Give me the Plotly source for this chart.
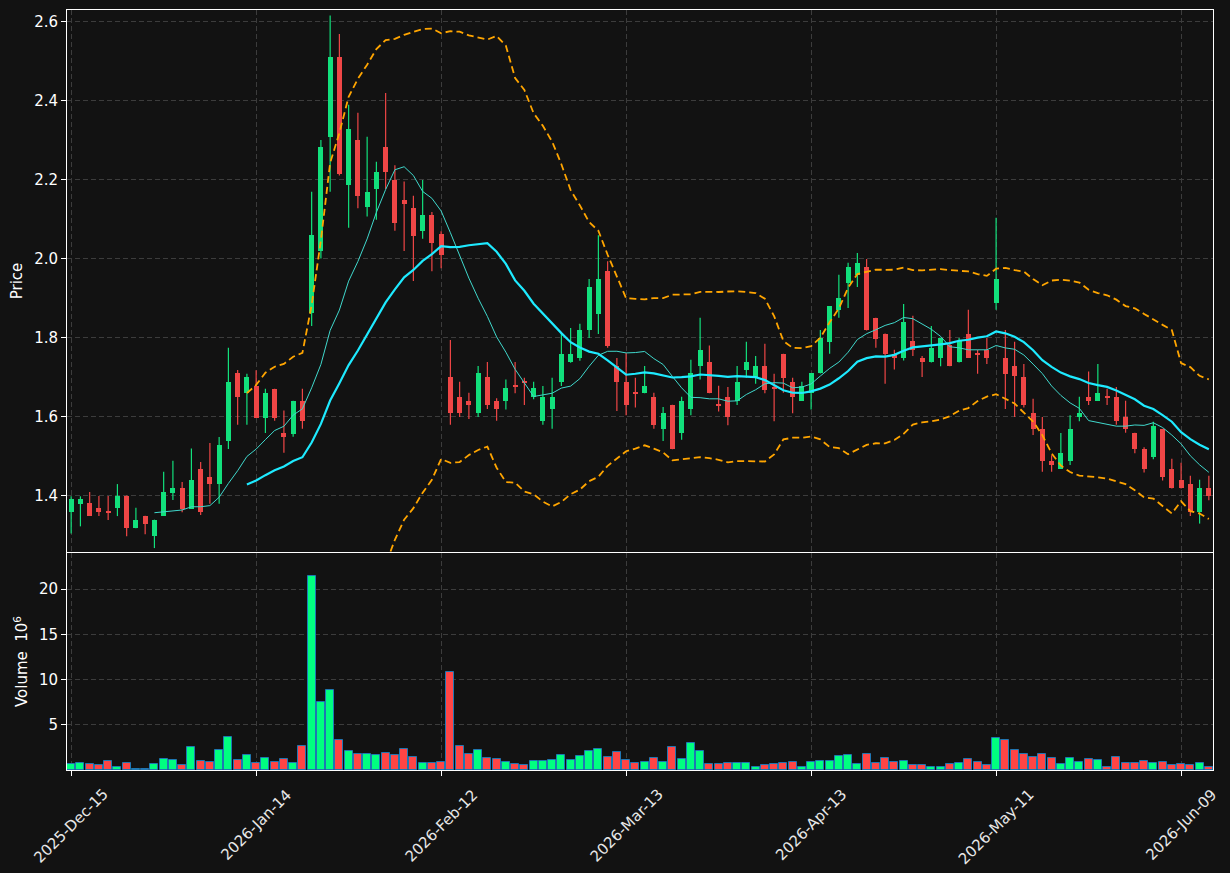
import pandas as pd
import numpy as np
import plotly.graph_objects as go

# ---------------- data ----------------
holidays = ["2025-12-25", "2026-01-01", "2026-01-19", "2026-02-16", "2026-04-03", "2026-05-25"]
dates = pd.bdate_range("2025-12-15", "2026-06-12", freq="C", holidays=holidays)

tick_labels = ["2025-Dec-15", "2026-Jan-14", "2026-Feb-12", "2026-Mar-13",
               "2026-Apr-13", "2026-May-11", "2026-Jun-09"]

open_ = [1.359, 1.379, 1.381, 1.370, 1.361, 1.369, 1.401, 1.318, 1.350, 1.298,
         1.349, 1.408, 1.421, 1.368, 1.469, 1.449, 1.430, 1.538, 1.710, 1.660,
         1.679, 1.598, 1.671, 1.560, 1.558, 1.641, 1.864, 2.020, 2.308, 2.512,
         2.186, 2.302, 2.132, 2.178, 2.282, 2.200, 2.149, 2.129, 2.070, 2.110,
         2.062, 1.700, 1.651, 1.641, 1.609, 1.700, 1.641, 1.640, 1.679, 1.690,
         1.650, 1.589, 1.619, 1.689, 1.739, 1.748, 1.819, 1.860, 1.970, 1.729,
         1.689, 1.662, 1.660, 1.651, 1.570, 1.631, 1.560, 1.619, 1.728, 1.740,
         1.632, 1.651, 1.640, 1.718, 1.698, 1.730, 1.673, 1.760, 1.689, 1.640,
         1.660, 1.710, 1.789, 1.870, 1.939, 1.958, 1.980, 1.851, 1.811, 1.759,
         1.749, 1.792, 1.750, 1.738, 1.749, 1.781, 1.738, 1.811, 1.761, 1.770,
         1.888, 1.750, 1.730, 1.700, 1.611, 1.570, 1.489, 1.468, 1.488, 1.599,
         1.651, 1.640, 1.651, 1.651, 1.601, 1.560, 1.519, 1.498, 1.570, 1.469,
         1.441, 1.431, 1.359, 1.421]
high = [1.399, 1.399, 1.410, 1.400, 1.400, 1.430, 1.401, 1.370, 1.350, 1.340,
        1.461, 1.489, 1.435, 1.520, 1.486, 1.534, 1.549, 1.775, 1.719, 1.709,
        1.718, 1.671, 1.671, 1.616, 1.641, 1.671, 2.170, 2.301, 2.616, 2.569,
        2.390, 2.370, 2.309, 2.246, 2.420, 2.237, 2.196, 2.160, 2.200, 2.119,
        2.070, 1.795, 1.689, 1.661, 1.729, 1.739, 1.647, 1.695, 1.739, 1.699,
        1.689, 1.678, 1.699, 1.810, 1.825, 1.836, 1.949, 2.060, 1.994, 1.749,
        1.762, 1.699, 1.729, 1.661, 1.625, 1.631, 1.651, 1.745, 1.851, 1.781,
        1.679, 1.676, 1.729, 1.790, 1.754, 1.785, 1.709, 1.760, 1.699, 1.689,
        1.710, 1.820, 1.881, 1.960, 1.990, 2.015, 2.000, 1.851, 1.811, 1.770,
        1.886, 1.856, 1.754, 1.830, 1.800, 1.820, 1.800, 1.871, 1.770, 1.800,
        2.104, 1.820, 1.790, 1.734, 1.646, 1.600, 1.503, 1.559, 1.604, 1.651,
        1.715, 1.734, 1.671, 1.676, 1.641, 1.560, 1.523, 1.588, 1.570, 1.494,
        1.484, 1.451, 1.441, 1.451]
low = [1.305, 1.323, 1.349, 1.349, 1.339, 1.349, 1.298, 1.318, 1.303, 1.268,
       1.349, 1.390, 1.359, 1.368, 1.352, 1.380, 1.380, 1.519, 1.580, 1.580,
       1.598, 1.559, 1.590, 1.509, 1.550, 1.570, 1.830, 2.001, 2.170, 2.211,
       2.079, 2.128, 2.107, 2.099, 2.176, 2.071, 2.020, 1.944, 2.051, 1.969,
       1.976, 1.580, 1.600, 1.595, 1.600, 1.620, 1.590, 1.619, 1.660, 1.630,
       1.645, 1.580, 1.570, 1.678, 1.737, 1.742, 1.800, 1.810, 1.775, 1.615,
       1.604, 1.624, 1.660, 1.570, 1.539, 1.518, 1.542, 1.604, 1.695, 1.660,
       1.614, 1.579, 1.630, 1.699, 1.684, 1.660, 1.589, 1.661, 1.609, 1.640,
       1.619, 1.710, 1.760, 1.851, 1.876, 1.929, 1.819, 1.775, 1.684, 1.720,
       1.743, 1.754, 1.701, 1.738, 1.728, 1.728, 1.738, 1.749, 1.709, 1.734,
       1.871, 1.620, 1.600, 1.624, 1.554, 1.461, 1.461, 1.468, 1.478, 1.589,
       1.630, 1.640, 1.630, 1.580, 1.560, 1.508, 1.459, 1.493, 1.439, 1.419,
       1.419, 1.349, 1.330, 1.389]
close = [1.391, 1.391, 1.349, 1.359, 1.359, 1.401, 1.318, 1.339, 1.328, 1.340,
         1.411, 1.421, 1.368, 1.441, 1.359, 1.430, 1.530, 1.689, 1.650, 1.700,
         1.598, 1.661, 1.598, 1.548, 1.641, 1.590, 2.061, 2.282, 2.512, 2.214,
         2.330, 2.158, 2.170, 2.220, 2.219, 2.090, 2.138, 2.059, 2.110, 2.040,
         2.009, 1.609, 1.609, 1.630, 1.710, 1.630, 1.619, 1.672, 1.677, 1.688,
         1.672, 1.651, 1.651, 1.760, 1.760, 1.820, 1.930, 1.950, 1.779, 1.689,
         1.630, 1.660, 1.679, 1.579, 1.611, 1.518, 1.641, 1.710, 1.770, 1.660,
         1.630, 1.599, 1.689, 1.740, 1.730, 1.669, 1.671, 1.698, 1.650, 1.679,
         1.710, 1.800, 1.881, 1.900, 1.980, 1.990, 1.819, 1.798, 1.759, 1.749,
         1.841, 1.769, 1.738, 1.775, 1.800, 1.728, 1.791, 1.749, 1.759, 1.749,
         1.950, 1.708, 1.703, 1.630, 1.570, 1.488, 1.478, 1.509, 1.570, 1.611,
         1.640, 1.661, 1.650, 1.589, 1.570, 1.518, 1.468, 1.576, 1.449, 1.419,
         1.419, 1.359, 1.421, 1.399]
volume_m = [0.62, 0.73, 0.62, 0.51, 0.95, 0.36, 0.73, 0.15, 0.15, 0.62,
            1.17, 1.06, 0.51, 2.59, 0.95, 0.84, 2.26, 3.69, 1.06, 1.61,
            0.73, 1.28, 0.84, 1.17, 0.73, 2.70, 21.5, 7.52, 8.83, 3.36,
            2.15, 1.82, 1.72, 1.61, 1.93, 1.61, 2.37, 1.39, 0.73, 0.73,
            0.84, 10.8, 2.70, 1.72, 2.26, 1.28, 1.17, 0.84, 0.62, 0.51,
            0.95, 0.95, 1.06, 1.61, 1.06, 1.50, 2.15, 2.37, 1.39, 2.04,
            1.06, 0.73, 0.84, 1.28, 0.84, 2.59, 1.17, 3.03, 2.15, 0.62,
            0.62, 0.73, 0.73, 0.73, 0.36, 0.51, 0.62, 0.73, 0.84, 0.36,
            0.84, 0.95, 0.95, 1.50, 1.61, 0.62, 1.82, 0.73, 1.28, 0.84,
            0.95, 0.51, 0.51, 0.36, 0.36, 0.62, 0.73, 1.17, 0.84, 0.51,
            3.58, 3.36, 2.26, 1.82, 1.39, 1.72, 1.28, 0.62, 1.28, 0.84,
            1.17, 1.06, 0.36, 1.39, 0.73, 0.73, 0.95, 0.73, 0.84, 0.51,
            0.62, 0.51, 0.73, 0.36]

# ---------------- derived ----------------
n = len(close)
xi = list(range(n))
date_labels = [d.strftime("%Y-%b-%d") for d in dates[:n]]
tick_pos = [date_labels.index(t) for t in tick_labels]

o = np.array(open_); h = np.array(high); l = np.array(low); c = np.array(close)
up = c >= o
cs = pd.Series(c)
ma10 = cs.rolling(10).mean()
ma20 = cs.rolling(20).mean()
sd20 = cs.rolling(20).std(ddof=0)
bb_up = ma20 + 2 * sd20
bb_dn = ma20 - 2 * sd20

UP_C = "#12e07c"
DN_C = "#ef4646"
VUP_C = "#00ff80"
VDN_C = "#ff4545"
BG = "#121212"
GRID = "#3c3c3c"
FONT = "DejaVu Sans"
FS = 15

fig = go.Figure()

# wicks
for mask, col in ((up, UP_C), (~up, DN_C)):
    wx, wy = [], []
    for i in np.where(mask)[0]:
        wx += [i, i, None]
        wy += [l[i], h[i], None]
    fig.add_trace(go.Scatter(x=wx, y=wy, mode="lines", line=dict(color=col, width=1.2),
                             hoverinfo="skip", showlegend=False, xaxis="x", yaxis="y"))

# bodies
body_base = np.minimum(o, c)
body_h = np.maximum(np.abs(c - o), 0.0025)
fig.add_trace(go.Bar(x=xi, y=body_h, base=body_base, width=0.55,
                     marker=dict(color=[UP_C if u else DN_C for u in up], line=dict(width=0)),
                     showlegend=False, xaxis="x", yaxis="y"))

# moving averages and bands
fig.add_trace(go.Scatter(x=xi, y=ma10, mode="lines", line=dict(color="#40d8cc", width=1),
                         showlegend=False, xaxis="x", yaxis="y"))
fig.add_trace(go.Scatter(x=xi, y=ma20, mode="lines", line=dict(color="#1eeaff", width=2.2),
                         showlegend=False, xaxis="x", yaxis="y"))
for band in (bb_up, bb_dn):
    fig.add_trace(go.Scatter(x=xi, y=band, mode="lines",
                             line=dict(color="#ffa500", width=1.8, dash="7px,4px"),
                             showlegend=False, xaxis="x", yaxis="y"))

# volume
fig.add_trace(go.Bar(x=xi, y=volume_m, width=0.88,
                     marker=dict(color=[VUP_C if u else VDN_C for u in up],
                                 line=dict(color="#1f77b4", width=1)),
                     showlegend=False, xaxis="x2", yaxis="y2"))

xr = [-0.45, n - 1 + 0.45]
axis_common = dict(showline=True, mirror=True, linecolor="white", linewidth=1,
                   zeroline=False, showgrid=True, gridcolor=GRID, griddash="5px,3px",
                   gridwidth=1, tickfont=dict(color="white", size=FS, family=FONT))

fig.update_layout(
    width=1230, height=873,
    margin=dict(l=67, r=17, t=10, b=103),
    paper_bgcolor=BG, plot_bgcolor=BG,
    barmode="overlay", bargap=0,
    font=dict(family=FONT, color="white", size=FS),
    xaxis=dict(domain=[0, 1], anchor="y", range=xr, tickvals=tick_pos,
               showticklabels=False, ticks="", **axis_common),
    yaxis=dict(domain=[0.2868, 1], anchor="x", range=[1.258, 2.630],
               tickvals=[1.4, 1.6, 1.8, 2.0, 2.2, 2.4, 2.6], tickformat=".1f",
               ticks="outside", ticklen=5, tickcolor="white",
               title=dict(text="Price", font=dict(size=FS, color="white", family=FONT), standoff=7),
               **axis_common),
    xaxis2=dict(domain=[0, 1], anchor="y2", range=xr, tickvals=tick_pos,
                showticklabels=False, ticks="outside", ticklen=5, tickcolor="white",
                **axis_common),
    yaxis2=dict(domain=[0, 0.2855], anchor="x2", range=[0, 24],
                tickvals=[5, 10, 15, 20], ticks="outside", ticklen=5, tickcolor="white",
                title=dict(text="Volume  10<sup>6</sup>", font=dict(size=FS, color="white", family=FONT),
                           standoff=7),
                **axis_common),
)

for p, t in zip(tick_pos, tick_labels):
    fig.add_annotation(x=p, y=0, xref="x2", yref="paper", text=t, textangle=-45,
                       showarrow=False, xanchor="center", yanchor="top", yshift=-13,
                       font=dict(size=FS, color="#e8e8e8", family=FONT))

fig.write_html("out.html")
